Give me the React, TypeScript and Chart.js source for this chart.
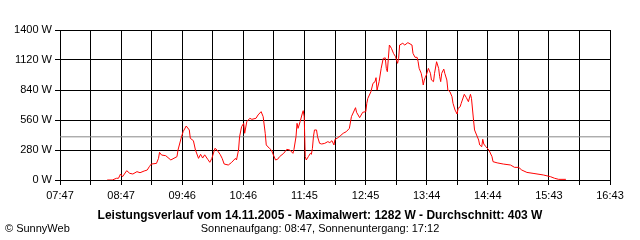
import React, { useEffect, useRef } from "react";
import { Chart, registerables } from "chart.js";

Chart.register(...registerables);

// Time of each measurement (HH:MM) and power in watts
const times = [
  "08:33", "08:38", "08:42", "08:44", "08:46", "08:48", "08:52", "08:55", "08:58", "09:02",
  "09:05", "09:09", "09:12", "09:14", "09:16", "09:21", "09:23", "09:24", "09:26", "09:30",
  "09:35", "09:41", "09:42", "09:45", "09:47", "09:50", "09:53", "09:54", "09:57", "09:59",
  "10:02", "10:04", "10:06", "10:08", "10:11", "10:13", "10:15", "10:18", "10:20", "10:23",
  "10:25", "10:27", "10:31", "10:34", "10:38", "10:39", "10:41", "10:42", "10:44", "10:46",
  "10:47", "10:49", "10:52", "10:54", "10:58", "11:00", "11:03", "11:05", "11:07", "11:08",
  "11:11", "11:13", "11:15", "11:17", "11:19", "11:21", "11:25", "11:28", "11:31", "11:34",
  "11:35", "11:37", "11:38", "11:39", "11:41", "11:43", "11:44", "11:45", "11:46", "11:47",
  "11:49", "11:51", "11:52", "11:53", "11:54", "11:55", "11:57", "11:58", "12:00", "12:02",
  "12:05", "12:08", "12:10", "12:12", "12:14", "12:15", "12:17", "12:20", "12:23", "12:26",
  "12:29", "12:31", "12:35", "12:36", "12:39", "12:42", "12:45", "12:46", "12:47", "12:50",
  "12:52", "12:54", "12:55", "12:56", "12:58", "13:00", "13:02", "13:04", "13:05", "13:06",
  "13:07", "13:08", "13:10", "13:12", "13:14", "13:16", "13:17", "13:18", "13:21", "13:23",
  "13:26", "13:30", "13:31", "13:33", "13:35", "13:36", "13:37", "13:39", "13:40", "13:41",
  "13:42", "13:43", "13:44", "13:46", "13:48", "13:49", "13:51", "13:52", "13:54", "13:56",
  "13:57", "13:58", "13:59", "14:01", "14:02", "14:04", "14:05", "14:07", "14:09", "14:10",
  "14:12", "14:14", "14:15", "14:17", "14:18", "14:21", "14:23", "14:25", "14:27", "14:28",
  "14:30", "14:31", "14:33", "14:35", "14:36", "14:38", "14:39", "14:40", "14:42", "14:45",
  "14:48", "14:49", "14:53", "14:59", "15:06", "15:10", "15:14", "15:17", "15:22", "15:28",
  "15:38", "15:45", "15:49", "15:53", "16:00",
];
const watts = [
  0, 0, 16, 16, 56, 31, 87, 62, 56, 78,
  68, 84, 93, 124, 149, 155, 202, 258, 233, 227,
  187, 218, 280, 389, 451, 504, 467, 389, 367, 280,
  202, 240, 205, 235, 193, 165, 202, 296, 280, 240,
  202, 149, 140, 162, 202, 187, 280, 404, 498, 529,
  436, 544, 576, 566, 576, 607, 638, 591, 436, 327,
  296, 280, 233, 187, 193, 218, 249, 286, 280, 249,
  286, 404, 529, 482, 544, 616, 647, 591, 218, 187,
  218, 249, 240, 296, 404, 467, 467, 404, 342, 336,
  342, 358, 349, 367, 327, 380, 389, 411, 436, 451,
  482, 591, 675, 632, 582, 632, 638, 716, 762, 824,
  902, 918, 955, 840, 918, 1042, 1135, 1140, 1042, 1011,
  1135, 1260, 1229, 1182, 1151, 1089, 1135, 1260, 1276, 1260,
  1282, 1260, 1182, 1145, 1145, 1104, 1042, 996, 949, 887,
  933, 958, 980, 1042, 996, 933, 918, 996, 1104, 1042,
  964, 918, 996, 1035, 996, 933, 840, 824, 778, 716,
  653, 616, 669, 684, 716, 800, 769, 731, 800, 762,
  560, 467, 420, 373, 327, 311, 380, 336, 311, 280,
  218, 171, 160, 149, 140, 118, 118, 93, 71, 62,
  47, 31, 16, 6, 6,
];

const averageWatts = 403;
const axisStart = "07:47";
const axisEnd = "16:43";
const xTickLabels = ["07:47", "08:47", "09:46", "10:46", "11:45", "12:45", "13:44", "14:44", "15:43", "16:43"];
const yTicks = [0, 280, 560, 840, 1120, 1400];

const titleText = "Leistungsverlauf vom 14.11.2005 - Maximalwert: 1282 W - Durchschnitt: 403 W";
const subtitleText = "Sonnenaufgang: 08:47, Sonnenuntergang: 17:12";
const creditText = "\u00A9 SunnyWeb";

const toMin = (s: string) => {
  const [h, m] = s.split(":").map(Number);
  return h * 60 + m;
};

const FONT = "'Liberation Sans', Arial, sans-serif";

export default function App() {
  const ref = useRef<HTMLCanvasElement | null>(null);

  useEffect(() => {
    if (!ref.current) return;
    const xMin = toMin(axisStart);
    const xMax = toMin(axisEnd);
    const nGrid = (xTickLabels.length - 1) * 2;

    const textPlugin = {
      id: "bottomTexts",
      afterDraw(chart: any) {
        const ctx = chart.ctx;
        ctx.save();
        ctx.fillStyle = "#000";
        ctx.textBaseline = "middle";
        ctx.textAlign = "center";
        ctx.font = `bold 12px ${FONT}`;
        ctx.fillText(titleText, 320, 216);
        ctx.font = `11px ${FONT}`;
        ctx.fillText(subtitleText, 320, 229);
        ctx.textAlign = "left";
        ctx.fillText(creditText, 5, 229);
        ctx.restore();
      },
    };

    const chart = new Chart(ref.current, {
      type: "line",
      data: {
        datasets: [
          {
            data: times.map((t, i) => ({ x: toMin(t), y: watts[i] })),
            borderColor: "#ff0000",
            borderWidth: 1,
            pointRadius: 0,
            tension: 0,
            order: 1,
          },
          {
            data: [
              { x: xMin, y: averageWatts },
              { x: xMax, y: averageWatts },
            ],
            borderColor: "#888888",
            borderWidth: 1,
            pointRadius: 0,
            order: 2,
          },
        ],
      },
      options: {
        responsive: false,
        animation: false,
        events: [],
        layout: { padding: { left: 0, top: 30, right: 30, bottom: 0 } },
        plugins: {
          legend: { display: false },
          tooltip: { enabled: false },
        },
        scales: {
          x: {
            type: "linear",
            min: xMin,
            max: xMax,
            afterFit: (s: any) => {
              s.height = 60;
            },
            afterBuildTicks: (s: any) => {
              s.ticks = Array.from({ length: nGrid + 1 }, (_, i) => ({
                value: xMin + (i * (xMax - xMin)) / nGrid,
              }));
            },
            ticks: {
              autoSkip: false,
              maxRotation: 0,
              padding: 4,
              color: "#000",
              font: { family: FONT, size: 11 },
              callback: (_v: any, i: number) => (i % 2 === 0 ? xTickLabels[i / 2] : ""),
            },
            grid: { color: "#000", tickColor: "#000", tickLength: 5, lineWidth: 1 },
            border: { color: "#000", width: 1 },
          },
          y: {
            min: yTicks[0],
            max: yTicks[yTicks.length - 1],
            afterFit: (s: any) => {
              s.width = 60;
            },
            afterBuildTicks: (s: any) => {
              s.ticks = yTicks.map((v) => ({ value: v }));
            },
            ticks: {
              padding: 3,
              color: "#000",
              font: { family: FONT, size: 11 },
              callback: (v: any) => `${v} W`,
            },
            grid: { color: "#000", tickColor: "#000", tickLength: 5, lineWidth: 1 },
            border: { color: "#000", width: 1 },
          },
        },
      },
      plugins: [textPlugin],
    });
    return () => chart.destroy();
  }, []);

  return (
    <div style={{ position: "absolute", left: 0, top: 0, width: 640, height: 240, background: "#fff" }}>
      <canvas ref={ref} width={640} height={240} style={{ display: "block" }} />
    </div>
  );
}
